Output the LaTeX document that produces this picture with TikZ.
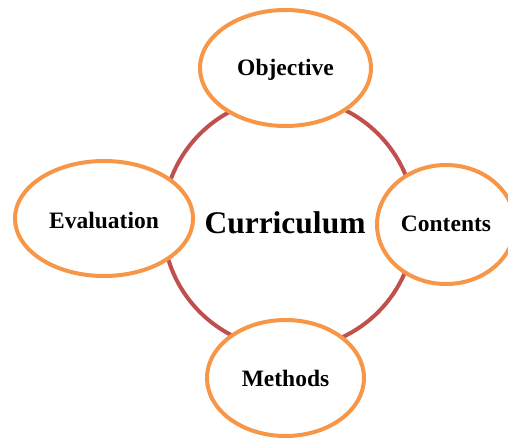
\documentclass[tikz,border=0pt]{standalone}
\usepackage{fontspec}
\setmainfont{Liberation Serif}
\usetikzlibrary{shapes.geometric}
\definecolor{orng}{HTML}{F79646}
\definecolor{rred}{HTML}{C0504D}
\begin{document}
\begin{tikzpicture}[x=1pt,y=-1pt,
  ring/.style={circle,draw=rred,line width=4pt,minimum size=252pt,inner sep=0pt},
  bubble/.style={ellipse,draw=orng,fill=white,line width=4pt,inner sep=0pt,
    font=\fontsize{23.5}{26}\selectfont\bfseries}]
\useasboundingbox (0,0) rectangle (508,437);
\node[ring] (cur) at (289,223) {};
\node[font=\fontsize{31.5}{34}\selectfont\bfseries] (curtext) at (285,223) {Curriculum};
\node[bubble,minimum width=171pt,minimum height=116pt] (obj) at (285.5,68) {};
\node[font=\fontsize{23.5}{26}\selectfont\bfseries] at (285.5,70) {Objective};
\node[bubble,minimum width=178pt,minimum height=115pt] (eva) at (104,218.5) {};
\node[font=\fontsize{23.5}{26}\selectfont\bfseries] at (104,220) {Evaluation};
\node[bubble,minimum width=138pt,minimum height=119pt] (con) at (446,224.5) {};
\node[font=\fontsize{23.5}{26}\selectfont\bfseries] at (446,224) {Contents};
\node[bubble,minimum width=157pt,minimum height=116pt] (met) at (285.5,378) {};
\node[font=\fontsize{23.5}{26}\selectfont\bfseries] at (285.5,378) {Methods};
\end{tikzpicture}
\end{document}
